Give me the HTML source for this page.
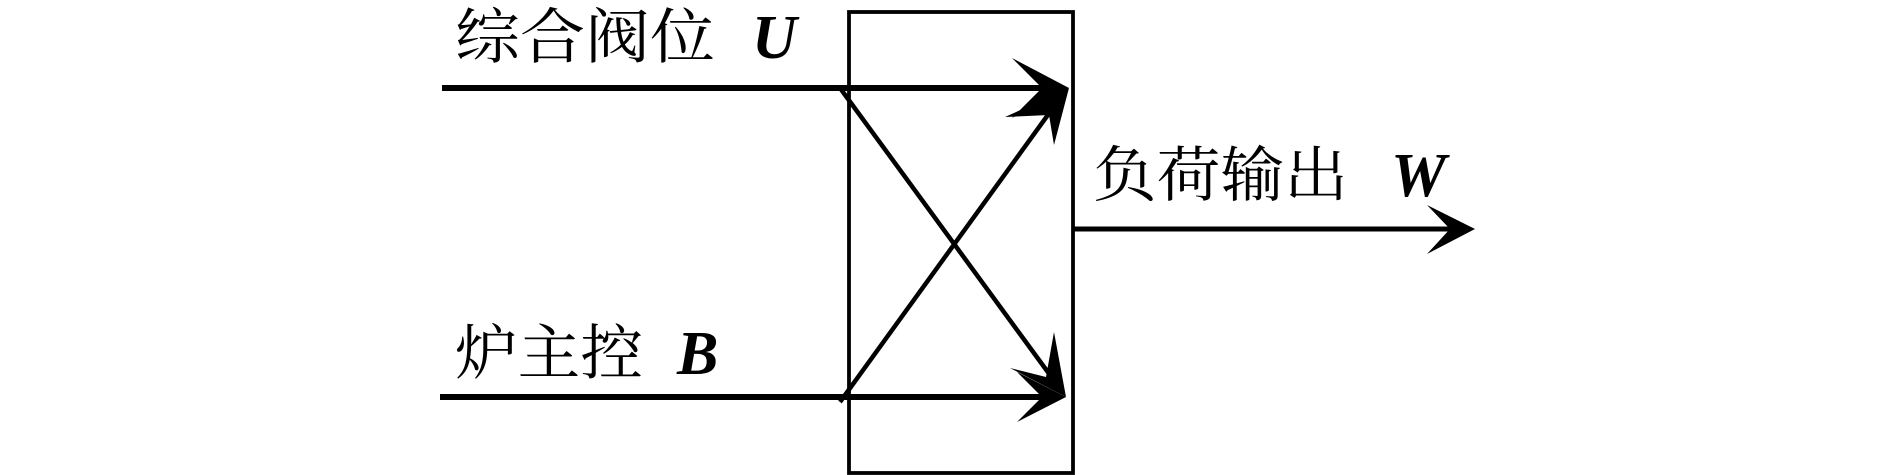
<!DOCTYPE html>
<html><head><meta charset="utf-8"><style>
html,body{margin:0;padding:0;background:#fff;}
svg{display:block;}
text{font-family:"Liberation Serif","Noto Serif CJK SC",serif;fill:#000;}
.cjk{font-family:"Noto Serif CJK SC","Noto Sans CJK SC",serif;}
.it{font-family:"Liberation Serif",serif;font-style:italic;font-weight:bold;}
</style></head><body>
<svg width="1890" height="475" viewBox="0 0 1890 475" xmlns="http://www.w3.org/2000/svg">
<rect x="849" y="12" width="224" height="461" fill="none" stroke="#000" stroke-width="3.8"/>
<line x1="442" y1="88" x2="1045" y2="88" stroke="#000" stroke-width="6"/>
<line x1="440" y1="397" x2="1045" y2="397" stroke="#000" stroke-width="6"/>
<line x1="1073" y1="229" x2="1455" y2="229" stroke="#000" stroke-width="5"/>
<line x1="840" y1="88" x2="1050" y2="375" stroke="#000" stroke-width="4.5"/>
<line x1="840" y1="402" x2="1050" y2="112" stroke="#000" stroke-width="4.5"/>
<polygon points="1069,88 1012,58 1042,88 1012,118" fill="#000"/>
<polygon points="1069,88 1054,145 1049,115 1005,117" fill="#000"/>
<polygon points="1066,397 1017,372 1042,397 1017,422" fill="#000"/>
<polygon points="1066,397 1010,368 1046,377 1054,332" fill="#000"/>
<polygon points="1475,229 1427,205 1450,229 1427,254" fill="#000"/>
<text x="455" y="58" font-size="60"><tspan class="cjk" textLength="260" lengthAdjust="spacingAndGlyphs">综合阀位</tspan></text>
<text x="752" y="58" font-size="62" class="it">U</text>
<text x="455" y="374" font-size="60"><tspan class="cjk" textLength="188" lengthAdjust="spacingAndGlyphs">炉主控</tspan></text>
<text x="677" y="374" font-size="62" class="it">B</text>
<text x="1093" y="196" font-size="60"><tspan class="cjk" textLength="255" lengthAdjust="spacingAndGlyphs">负荷输出</tspan></text>
<text x="1391" y="196" font-size="62" class="it">W</text>
</svg>
</body></html>
